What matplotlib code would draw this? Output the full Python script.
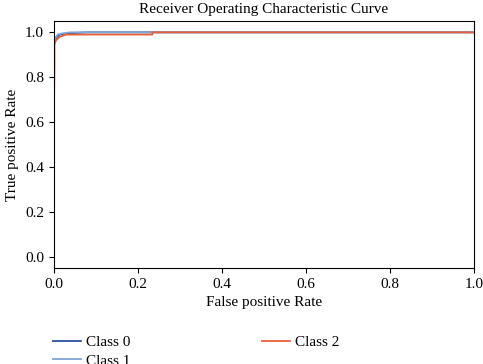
import matplotlib
matplotlib.use("Agg")
import matplotlib.pyplot as plt

# ROC points per class
fpr_class0 = [0.0, 0.0, 0.003, 0.008, 0.015, 0.03, 0.08, 1.0]
tpr_class0 = [0.0, 0.93, 0.965, 0.98, 0.99, 0.995, 1.0, 1.0]

fpr_class1 = [0.0, 0.0, 0.004, 0.01, 0.02, 0.04, 1.0]
tpr_class1 = [0.0, 0.95, 0.975, 0.99, 0.995, 1.0, 1.0]

fpr_class2 = [0.0, 0.0, 0.002, 0.002, 0.006, 0.015, 0.03, 0.235, 0.235, 1.0]
tpr_class2 = [0.0, 0.5, 0.86, 0.95, 0.965, 0.98, 0.99, 0.99, 1.0, 1.0]

COLORS = {"c0": "#2b4f9e", "c1": "#7ea6d6", "c2": "#e8603a"}

plt.rcParams["font.family"] = ["Liberation Serif", "DejaVu Serif"]

fig = plt.figure(figsize=(4.83, 3.64), dpi=100)
ax = fig.add_axes([0.111, 0.264, 0.871, 0.678])

ax.plot(fpr_class0, tpr_class0, color=COLORS["c0"], linewidth=1.3, label="Class 0")
ax.plot(fpr_class1, tpr_class1, color=COLORS["c1"], linewidth=1.3, label="Class 1")
ax.plot(fpr_class2, tpr_class2, color=COLORS["c2"], linewidth=1.3, label="Class 2")

ax.set_xlim(0.0, 1.0)
ax.set_ylim(-0.05, 1.05)
ax.set_xticks([0.0, 0.2, 0.4, 0.6, 0.8, 1.0])
ax.set_yticks([0.0, 0.2, 0.4, 0.6, 0.8, 1.0])
ax.tick_params(labelsize=11)
ax.set_xlabel("False positive Rate", fontsize=11)
ax.set_ylabel("True positive Rate", fontsize=11)
ax.set_title("Receiver Operating Characteristic Curve", fontsize=11)

ax.legend(loc="upper left", bbox_to_anchor=(-0.015, -0.25), ncol=2,
          frameon=False, fontsize=11, handlelength=1.8, handletextpad=0.35,
          columnspacing=8.6, labelspacing=0.3, borderaxespad=0)

fig.savefig("out.png", dpi=100)
